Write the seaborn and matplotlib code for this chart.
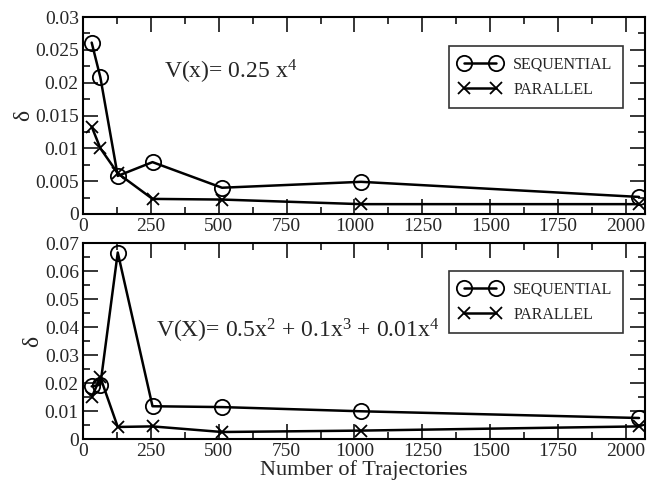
import matplotlib
matplotlib.use("Agg")
import matplotlib.pyplot as plt
import seaborn as sns
import pandas as pd
from matplotlib.ticker import MultipleLocator, FuncFormatter

sns.set_theme(style="ticks")
plt.rcParams['font.family'] = ['Liberation Serif', 'DejaVu Serif']
plt.rcParams['mathtext.fontset'] = 'custom'
plt.rcParams['mathtext.rm'] = 'Liberation Serif'
plt.rcParams['mathtext.it'] = 'Liberation Serif'

trajectories = [32, 64, 128, 256, 512, 1024, 2048]
top_sequential = [0.0261, 0.0208, 0.0058, 0.0079, 0.0040, 0.0049, 0.0026]
top_parallel = [0.0133, 0.0100, 0.0062, 0.0023, 0.0022, 0.0015, 0.0015]
bottom_sequential = [0.0188, 0.0194, 0.0666, 0.0117, 0.0114, 0.0099, 0.0075]
bottom_parallel = [0.0149, 0.0220, 0.0043, 0.0045, 0.0025, 0.0030, 0.0045]

fig = plt.figure(figsize=(6.47, 4.84), dpi=100)
W, H = 647, 484
ax1 = fig.add_axes([83 / W, 1 - 214 / H, (645 - 83) / W, (214 - 17) / H])
ax2 = fig.add_axes([83 / W, 1 - 439 / H, (645 - 83) / W, (439 - 243) / H])

fmt = FuncFormatter(lambda v, p: f"{round(v, 4):g}")

def draw(ax, seq, par, ymax, ymajor, label_text, tx, ty, legy):
    df = pd.DataFrame({"x": trajectories, "seq": seq, "par": par})
    sns.lineplot(data=df, x="x", y="seq", ax=ax, color="black", lw=1.8,
                 marker="o", markersize=11, markerfacecolor="none",
                 markeredgecolor="black", markeredgewidth=1.3, label="SEQUENTIAL")
    sns.lineplot(data=df, x="x", y="par", ax=ax, color="black", lw=1.8,
                 marker="x", markersize=9, markeredgecolor="black",
                 markeredgewidth=1.3, label="PARALLEL")
    ax.set_xlim(0, 2070)
    ax.set_ylim(0, ymax)
    ax.xaxis.set_major_locator(MultipleLocator(250))
    ax.xaxis.set_minor_locator(MultipleLocator(125))
    ax.yaxis.set_major_locator(MultipleLocator(ymajor))
    ax.yaxis.set_minor_locator(MultipleLocator(ymajor / 2))
    ax.yaxis.set_major_formatter(fmt)
    ax.tick_params(which="both", direction="in", top=True, right=True, width=1.3,
                   labelsize=14, pad=3)
    ax.tick_params(which="major", length=11)
    ax.tick_params(which="minor", length=5)
    for s in ax.spines.values():
        s.set_linewidth(1.5)
        s.set_color("black")
    ax.set_ylabel("δ", fontsize=17, labelpad=1)
    ax.set_xlabel("")
    leg = ax.legend(loc="upper right", bbox_to_anchor=(0.961, legy), numpoints=2,
                    fontsize=11.5, frameon=True, fancybox=False, edgecolor="black",
                    handlelength=2.6, borderpad=0.65, labelspacing=0.6,
                    borderaxespad=0, handletextpad=0.8)
    leg.get_frame().set_linewidth(1.2)
    ax.text(tx, ty, label_text, transform=ax.transAxes, fontsize=17, va="center")

draw(ax1, top_sequential, top_parallel, 0.03, 0.005,
     r"V(x)= 0.25 x$^{4}$", 0.145, 0.72, 0.853)
draw(ax2, bottom_sequential, bottom_parallel, 0.07, 0.01,
     r"V(X)= 0.5x$^{2}$ + 0.1x$^{3}$ + 0.01x$^{4}$", 0.13, 0.55, 0.857)
ax2.set_xlabel("Number of Trajectories", fontsize=16, labelpad=0)

fig.savefig("out.png", dpi=100)
